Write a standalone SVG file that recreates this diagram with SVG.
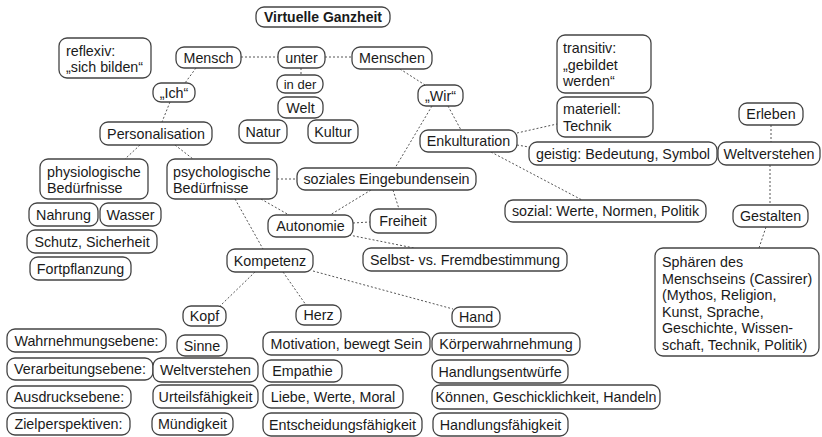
<svg xmlns="http://www.w3.org/2000/svg" width="822" height="437" viewBox="0 0 822 437">
<style>
.n rect{fill:#fff;stroke:#444;stroke-width:1.3}
.n text{font-family:"Liberation Sans",Arial,Helvetica,sans-serif;font-size:14.3px;fill:#1a1a1a;dominant-baseline:central}
.c{text-anchor:middle}
.b{font-weight:bold}
#connectors line{stroke:#555;stroke-width:1;stroke-dasharray:2 2;fill:none}
</style>
<rect width="822" height="437" fill="#fff"/>
<g id="connectors">
<line x1="241" y1="57" x2="278" y2="57"/>
<line x1="325" y1="57" x2="352" y2="57"/>
<line x1="301" y1="68" x2="301" y2="75"/>
<line x1="196" y1="68" x2="185" y2="83"/>
<line x1="170" y1="102" x2="162" y2="122"/>
<line x1="140" y1="145" x2="125" y2="159"/>
<line x1="175" y1="145" x2="193" y2="159"/>
<line x1="400" y1="69" x2="425" y2="85"/>
<line x1="448" y1="106" x2="461" y2="130"/>
<line x1="432" y1="106" x2="395" y2="168"/>
<line x1="517" y1="133" x2="557" y2="124"/>
<line x1="517" y1="145" x2="529" y2="147"/>
<line x1="491" y1="152" x2="582" y2="200"/>
<line x1="771" y1="125" x2="771" y2="142"/>
<line x1="770" y1="165" x2="770" y2="205"/>
<line x1="766" y1="227" x2="759" y2="248"/>
<line x1="277" y1="179" x2="297" y2="179"/>
<line x1="261" y1="199" x2="289" y2="215"/>
<line x1="235" y1="199" x2="263" y2="249"/>
<line x1="371" y1="190" x2="330" y2="215"/>
<line x1="393" y1="190" x2="399" y2="209"/>
<line x1="353" y1="223" x2="370" y2="222"/>
<line x1="349" y1="235" x2="414" y2="248"/>
<line x1="255" y1="272" x2="220" y2="306"/>
<line x1="283" y1="272" x2="306" y2="305"/>
<line x1="313" y1="271" x2="453" y2="309"/>
</g>
<g id="title" class="n"><rect x="256" y="7" width="134" height="20" rx="8"/><text class="c b" x="323" y="17" style="font-size:14px">Virtuelle Ganzheit</text></g>
<g id="reflexiv" class="n"><rect x="59" y="38" width="92" height="40" rx="8"/><text x="66" y="51">reflexiv:</text><text x="66" y="67">„sich bilden“</text></g>
<g id="mensch" class="n"><rect x="176" y="47" width="65" height="21" rx="8"/><text class="c" x="208.5" y="57.5">Mensch</text></g>
<g id="ich" class="n"><rect x="153" y="83" width="42" height="19" rx="8"/><text class="c" x="174" y="92.5">„Ich“</text></g>
<g id="personalisation" class="n"><rect x="100" y="122" width="112" height="23" rx="8"/><text class="c" x="156" y="133.5">Personalisation</text></g>
<g id="unter" class="n"><rect x="278" y="47" width="47" height="21" rx="8"/><text class="c" x="301.5" y="57.5">unter</text></g>
<g id="inder" class="n"><rect x="277" y="75" width="46" height="18" rx="8"/><text class="c" x="300" y="84" style="font-size:13px">in der</text></g>
<g id="welt" class="n"><rect x="278" y="97" width="45" height="21" rx="8"/><text class="c" x="300.5" y="107.5">Welt</text></g>
<g id="natur" class="n"><rect x="239" y="120" width="48" height="23" rx="8"/><text class="c" x="263" y="131.5">Natur</text></g>
<g id="kultur" class="n"><rect x="308" y="120" width="50" height="23" rx="8"/><text class="c" x="333" y="131.5">Kultur</text></g>
<g id="menschen" class="n"><rect x="352" y="47" width="80" height="22" rx="8"/><text class="c" x="392" y="58">Menschen</text></g>
<g id="wir" class="n"><rect x="418" y="85" width="45" height="21" rx="8"/><text class="c" x="440.5" y="95.5">„Wir“</text></g>
<g id="enkulturation" class="n"><rect x="420" y="130" width="97" height="22" rx="8"/><text class="c" x="468.5" y="141">Enkulturation</text></g>
<g id="transitiv" class="n"><rect x="557" y="35" width="94" height="58" rx="8"/><text x="563" y="48">transitiv:</text><text x="563" y="65">„gebildet</text><text x="563" y="81">werden“</text></g>
<g id="materiell" class="n"><rect x="557" y="97" width="96" height="40" rx="8"/><text x="563" y="109">materiell:</text><text x="563" y="126">Technik</text></g>
<g id="erleben" class="n"><rect x="739" y="103" width="64" height="22" rx="8"/><text class="c" x="771" y="114">Erleben</text></g>
<g id="weltverstehen-r" class="n"><rect x="718" y="142" width="102" height="23" rx="8"/><text class="c" x="769" y="153.5">Weltverstehen</text></g>
<g id="geistig" class="n"><rect x="529" y="142" width="188" height="23" rx="8"/><text class="c" x="623" y="153.5">geistig: Bedeutung, Symbol</text></g>
<g id="sozial" class="n"><rect x="505" y="200" width="201" height="22" rx="8"/><text class="c" x="605.5" y="211">sozial: Werte, Normen, Politik</text></g>
<g id="gestalten" class="n"><rect x="733" y="205" width="75" height="22" rx="8"/><text class="c" x="770.5" y="216">Gestalten</text></g>
<g id="sphaeren" class="n"><rect x="655" y="248" width="164" height="108" rx="8"/><text x="662" y="262">Sphären des</text><text x="662" y="278.5">Menschseins (Cassirer)</text><text x="662" y="295">(Mythos, Religion,</text><text x="662" y="311.5">Kunst, Sprache,</text><text x="662" y="328">Geschichte, Wissen-</text><text x="662" y="344.5">schaft, Technik, Politik)</text></g>
<g id="physiologische" class="n"><rect x="40" y="159" width="108" height="40" rx="8"/><text x="47" y="172">physiologische</text><text x="47" y="188">Bedürfnisse</text></g>
<g id="psychologische" class="n"><rect x="167" y="159" width="110" height="40" rx="8"/><text x="173" y="172">psychologische</text><text x="173" y="188">Bedürfnisse</text></g>
<g id="nahrung" class="n"><rect x="29" y="203" width="69" height="23" rx="8"/><text class="c" x="63.5" y="214.5">Nahrung</text></g>
<g id="wasser" class="n"><rect x="100" y="203" width="61" height="23" rx="8"/><text class="c" x="130.5" y="214.5">Wasser</text></g>
<g id="schutz" class="n"><rect x="27" y="230" width="130" height="23" rx="8"/><text class="c" x="92" y="241.5">Schutz, Sicherheit</text></g>
<g id="fortpflanzung" class="n"><rect x="30" y="257" width="101" height="23" rx="8"/><text class="c" x="80.5" y="268.5">Fortpflanzung</text></g>
<g id="soziales" class="n"><rect x="297" y="168" width="179" height="22" rx="8"/><text class="c" x="386.5" y="179">soziales Eingebundensein</text></g>
<g id="autonomie" class="n"><rect x="268" y="215" width="85" height="22" rx="8"/><text class="c" x="310.5" y="226">Autonomie</text></g>
<g id="freiheit" class="n"><rect x="370" y="209" width="66" height="24" rx="8"/><text class="c" x="403" y="221">Freiheit</text></g>
<g id="selbst" class="n"><rect x="363" y="248" width="204" height="23" rx="8"/><text class="c" x="465" y="259.5">Selbst- vs. Fremdbestimmung</text></g>
<g id="kompetenz" class="n"><rect x="227" y="249" width="86" height="23" rx="8"/><text class="c" x="270" y="260.5">Kompetenz</text></g>
<g id="kopf" class="n"><rect x="183" y="306" width="43" height="20" rx="8"/><text class="c" x="204.5" y="316">Kopf</text></g>
<g id="herz" class="n"><rect x="296" y="305" width="45" height="20" rx="8"/><text class="c" x="318.5" y="315">Herz</text></g>
<g id="hand" class="n"><rect x="452" y="307" width="48" height="20" rx="8"/><text class="c" x="476" y="317">Hand</text></g>
<g id="wahrnehmungsebene" class="n"><rect x="7" y="329" width="159" height="23" rx="8"/><text class="c" x="86.5" y="340.5">Wahrnehmungsebene:</text></g>
<g id="sinne" class="n"><rect x="177" y="335" width="50" height="21" rx="8"/><text class="c" x="202" y="345.5">Sinne</text></g>
<g id="motivation" class="n"><rect x="263" y="332" width="167" height="23" rx="8"/><text class="c" x="346.5" y="343.5">Motivation, bewegt Sein</text></g>
<g id="koerperwahrnehmung" class="n"><rect x="432" y="333" width="148" height="22" rx="8"/><text class="c" x="506" y="344">Körperwahrnehmung</text></g>
<g id="verarbeitungsebene" class="n"><rect x="7" y="358" width="146" height="22" rx="8"/><text class="c" x="80" y="369">Verarbeitungsebene:</text></g>
<g id="weltverstehen-k" class="n"><rect x="153" y="358" width="105" height="24" rx="8"/><text class="c" x="205.5" y="370">Weltverstehen</text></g>
<g id="empathie" class="n"><rect x="263" y="360" width="79" height="22" rx="8"/><text class="c" x="302.5" y="371">Empathie</text></g>
<g id="handlungsentwuerfe" class="n"><rect x="432" y="360" width="136" height="23" rx="8"/><text class="c" x="500" y="371.5">Handlungsentwürfe</text></g>
<g id="ausdrucksebene" class="n"><rect x="7" y="386" width="124" height="22" rx="8"/><text class="c" x="69" y="397">Ausdrucksebene:</text></g>
<g id="urteilsfaehigkeit" class="n"><rect x="153" y="385" width="105" height="23" rx="8"/><text class="c" x="205.5" y="396.5">Urteilsfähigkeit</text></g>
<g id="liebe" class="n"><rect x="263" y="385" width="140" height="23" rx="8"/><text class="c" x="333" y="396.5">Liebe, Werte, Moral</text></g>
<g id="koennen" class="n"><rect x="432" y="385" width="228" height="24" rx="8"/><text class="c" x="546" y="397">Können, Geschicklichkeit, Handeln</text></g>
<g id="zielperspektiven" class="n"><rect x="7" y="413" width="123" height="22" rx="8"/><text class="c" x="68.5" y="424">Zielperspektiven:</text></g>
<g id="muendigkeit" class="n"><rect x="152" y="413" width="81" height="22" rx="8"/><text class="c" x="192.5" y="424">Mündigkeit</text></g>
<g id="entscheidung" class="n"><rect x="263" y="413" width="159" height="23" rx="8"/><text class="c" x="342.5" y="424.5">Entscheidungsfähigkeit</text></g>
<g id="handlungsfaehigkeit" class="n"><rect x="433" y="413" width="135" height="23" rx="8"/><text class="c" x="500.5" y="424.5">Handlungsfähigkeit</text></g>
</svg>
